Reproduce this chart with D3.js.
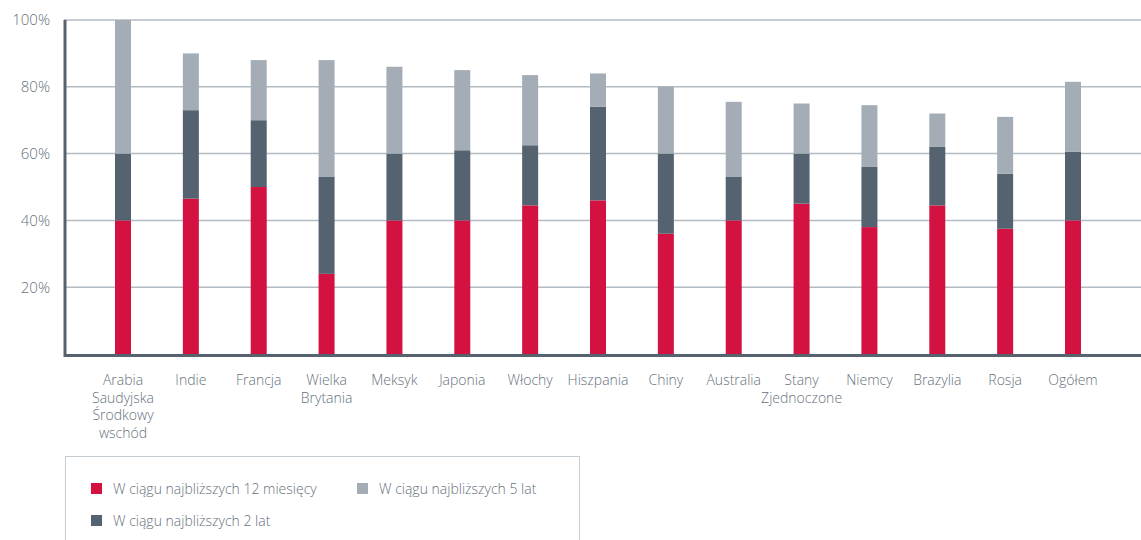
<!DOCTYPE html>
<html>
<head>
<meta charset="utf-8">
<script src="https://cdn.jsdelivr.net/npm/d3@7"></script>
<style>
  html, body { margin: 0; padding: 0; background: #fff; }
  svg { display: block; font-family: "Open Sans", "Noto Sans", sans-serif; }
  .tick-label, .cat-label, .legend-label { fill: #66717c; font-weight: 300; }
</style>
</head>
<body>
<svg id="chart" width="1141" height="540"></svg>
<script>
const categories = [
  ['Arabia', 'Saudyjska', 'Środkowy', 'wschód'],
  ['Indie'],
  ['Francja'],
  ['Wielka', 'Brytania'],
  ['Meksyk'],
  ['Japonia'],
  ['Włochy'],
  ['Hiszpania'],
  ['Chiny'],
  ['Australia'],
  ['Stany', 'Zjednoczone'],
  ['Niemcy'],
  ['Brazylia'],
  ['Rosja'],
  ['Ogółem'],
];
// segment sizes, % of respondents
const within12Months = [40, 46.5, 50, 24, 40, 40, 44.5, 46, 36, 40, 45, 38, 44.5, 37.5, 40];
const within2Years = [20, 26.5, 20, 29, 20, 21, 18, 28, 24, 13, 15, 18, 17.5, 16.5, 20.5];
const within5Years = [40, 17, 18, 35, 26, 24, 21, 10, 20, 22.5, 15, 18.5, 10, 17, 21];
const yTicks = [20, 40, 60, 80, 100];

const seriesNames = [
  'W ciągu najbliższych 12 miesięcy',
  'W ciągu najbliższych 2 lat',
  'W ciągu najbliższych 5 lat',
];
const seriesColors = ['#d41241', '#54636f', '#a4adb5'];

const PLOT_LEFT = 64;
const PLOT_RIGHT = 1141;
const PLOT_TOP = 20;
const PLOT_BOTTOM = 354;
const BAR_WIDTH = 16;

const svg = d3.select('#chart');

const keys = categories.map(c => c.join(' '));
const rows = keys.map((k, i) => ({
  key: k,
  s0: within12Months[i],
  s1: within2Years[i],
  s2: within5Years[i],
}));
const stacked = d3.stack().keys(['s0', 's1', 's2'])(rows);

const x = d3.scalePoint()
  .domain(keys)
  .range([123, 1073]);

const y = d3.scaleLinear()
  .domain([0, 100])
  .range([PLOT_BOTTOM, PLOT_TOP]);

// gridlines
svg.append('g')
  .selectAll('line')
  .data(yTicks)
  .join('line')
  .attr('x1', PLOT_LEFT)
  .attr('x2', PLOT_RIGHT)
  .attr('y1', d => y(d))
  .attr('y2', d => y(d))
  .attr('stroke', '#b3bbc2')
  .attr('stroke-width', 1.5);

// y tick labels
svg.append('g')
  .selectAll('text')
  .data(yTicks)
  .join('text')
  .attr('class', 'tick-label')
  .attr('x', 50)
  .attr('y', d => y(d))
  .attr('dy', '0.36em')
  .attr('text-anchor', 'end')
  .attr('font-size', 15)
  .text(d => d + '%');

// bars
svg.append('g')
  .selectAll('g')
  .data(stacked)
  .join('g')
  .attr('fill', (d, i) => seriesColors[i])
  .selectAll('rect')
  .data(d => d)
  .join('rect')
  .attr('x', d => x(d.data.key) - BAR_WIDTH / 2)
  .attr('width', BAR_WIDTH)
  .attr('y', d => y(d[1]))
  .attr('height', d => y(d[0]) - y(d[1]));

// axes
svg.append('line')
  .attr('x1', PLOT_LEFT + 1)
  .attr('x2', PLOT_LEFT + 1)
  .attr('y1', PLOT_TOP)
  .attr('y2', PLOT_BOTTOM + 3)
  .attr('stroke', '#56636e')
  .attr('stroke-width', 3);
svg.append('line')
  .attr('x1', PLOT_LEFT)
  .attr('x2', PLOT_RIGHT)
  .attr('y1', PLOT_BOTTOM + 1.5)
  .attr('y2', PLOT_BOTTOM + 1.5)
  .attr('stroke', '#56636e')
  .attr('stroke-width', 3);

// category labels
const labels = svg.append('g')
  .selectAll('text')
  .data(categories)
  .join('text')
  .attr('class', 'cat-label')
  .attr('text-anchor', 'middle')
  .attr('font-size', 14)
  .attr('transform', (d, i) => `translate(${x(keys[i])},385)`);
labels.selectAll('tspan')
  .data(d => d)
  .join('tspan')
  .attr('x', 0)
  .attr('y', (d, i) => i * 17.5)
  .text(d => d);

// legend
const legend = svg.append('g');
legend.append('rect')
  .attr('x', 65.5)
  .attr('y', 456.5)
  .attr('width', 514)
  .attr('height', 100)
  .attr('fill', 'none')
  .attr('stroke', '#c5ccd2')
  .attr('stroke-width', 1);

const legendPos = [
  { x: 91, y: 483 },
  { x: 91, y: 515 },
  { x: 357, y: 483 },
];
const items = legend.selectAll('g.item')
  .data(seriesNames)
  .join('g')
  .attr('class', 'item')
  .attr('transform', (d, i) => `translate(${legendPos[i].x},${legendPos[i].y})`);
items.append('rect')
  .attr('width', 11)
  .attr('height', 11)
  .attr('fill', (d, i) => seriesColors[i]);
items.append('text')
  .attr('class', 'legend-label')
  .attr('x', 22)
  .attr('y', 5.5)
  .attr('dy', '0.36em')
  .attr('font-size', 14)
  .text(d => d);
</script>
</body>
</html>
